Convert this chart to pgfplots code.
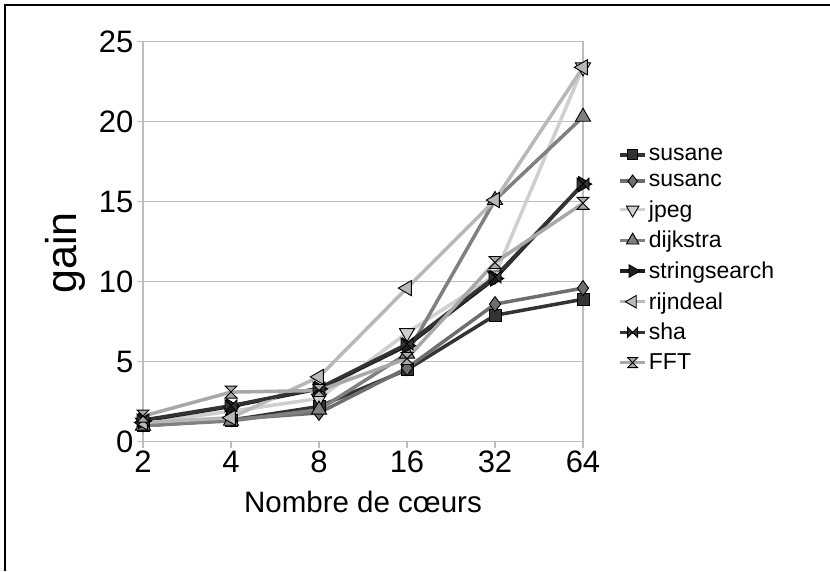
\documentclass[border=0pt]{standalone}
\usepackage{fontspec}
\setmainfont{Liberation Sans}
\usepackage{pgfplots}
\pgfplotsset{compat=1.18}

\definecolor{cSusane}{HTML}{333333}
\definecolor{cSusanc}{HTML}{6E6E6E}
\definecolor{cJpeg}{HTML}{CFCFCF}
\definecolor{cDijk}{HTML}{808080}
\definecolor{cString}{HTML}{1E1E1E}
\definecolor{cRijn}{HTML}{B8B8B8}
\definecolor{cSha}{HTML}{333333}
\definecolor{cFFT}{HTML}{A8A8A8}
\definecolor{gridgray}{HTML}{BEBEBE}

% bowtie (sha) and hourglass (FFT) marks
\pgfdeclareplotmark{bowtie}{%
  \pgfpathmoveto{\pgfqpoint{-\pgfplotmarksize}{\pgfplotmarksize}}%
  \pgfpathlineto{\pgfqpoint{\pgfplotmarksize}{-\pgfplotmarksize}}%
  \pgfpathlineto{\pgfqpoint{\pgfplotmarksize}{\pgfplotmarksize}}%
  \pgfpathlineto{\pgfqpoint{-\pgfplotmarksize}{-\pgfplotmarksize}}%
  \pgfpathclose\pgfusepathqfillstroke}
\pgfdeclareplotmark{hourglass}{%
  \pgfpathmoveto{\pgfqpoint{-\pgfplotmarksize}{\pgfplotmarksize}}%
  \pgfpathlineto{\pgfqpoint{\pgfplotmarksize}{\pgfplotmarksize}}%
  \pgfpathlineto{\pgfqpoint{-\pgfplotmarksize}{-\pgfplotmarksize}}%
  \pgfpathlineto{\pgfqpoint{\pgfplotmarksize}{-\pgfplotmarksize}}%
  \pgfpathclose\pgfusepathqfillstroke}

\tikzset{mk/.style={draw=black, fill=#1, line width=0.9pt, solid},
  tri/.style={mk=#1, scale=1.45}}

\begin{document}
\begin{tikzpicture}
\useasboundingbox (0pt,0pt) rectangle (830pt,571pt);
\draw[line width=2.5pt] (5pt,0pt) -- (5pt,566pt) -- (830pt,566pt);
\begin{axis}[
  at={(143pt,129.3pt)}, anchor=south west,
  scale only axis, width=440pt, height=400pt,
  xmin=0, xmax=5, ymin=0, ymax=25,
  xtick={0,...,5}, xticklabels={2,4,8,16,32,64},
  ytick={0,5,...,25},
  xtick pos=bottom, ytick pos=left,
  axis line style={gridgray, line width=1.2pt},
  ymajorgrids, grid style={gridgray, line width=1.2pt},
  tick style={gridgray, line width=1.2pt},
  tick align=outside, major tick length=6pt,
  tick label style={font=\fontsize{31}{33}\selectfont, text=black},
  /pgf/number format/assume math mode=true,
  ylabel={gain},
  ylabel style={font=\fontsize{43}{45}\selectfont, at={(axis description cs:-0.177,0.472)}, anchor=center},
  xlabel={Nombre de cœurs},
  xlabel style={font=\fontsize{29.5}{31}\selectfont, at={(axis description cs:0.5,-0.151)}, anchor=center},
  clip=false,
  every axis plot/.append style={line width=3.5pt, mark size=6pt},
  legend style={at={(axis description cs:1.08,0.74)}, anchor=north west, draw=none, fill=none,
    font=\fontsize{23}{24}\selectfont, row sep=8.5pt, inner sep=0pt},
  legend cell align=left,
  legend image code/.code={\draw[mark repeat=2,mark phase=2,#1,mark size=5pt] plot coordinates {(0pt,0pt) (12.5pt,0pt) (25pt,0pt)};},
]
\addplot[cSusane, mark=square*, mark options={mk=cSusane}] coordinates
  {(0,1.0) (1,1.35) (2,2.2) (3,4.5) (4,7.9) (5,8.9)};
\addplot[cSusanc, mark=diamond*, mark options={mk=cSusanc, scale=1.25}] coordinates
  {(0,1.1) (1,1.4) (2,1.8) (3,4.6) (4,8.6) (5,9.6)};
\addplot[cJpeg, mark=triangle*, mark options={tri=cJpeg, rotate=180}] coordinates
  {(0,1.2) (1,1.9) (2,2.7) (3,6.8) (4,10.4) (5,23.4)};
\addplot[cDijk, mark=triangle*, mark options={tri=cDijk}] coordinates
  {(0,1.0) (1,1.3) (2,2.0) (3,5.5) (4,15.1) (5,20.3)};
\addplot[cString, mark=triangle*, mark options={tri=cString, rotate=-90}] coordinates
  {(0,1.3) (1,2.2) (2,3.3) (3,6.0) (4,10.2) (5,16.1)};
\addplot[cRijn, mark=triangle*, mark options={tri=cRijn, rotate=90}] coordinates
  {(0,1.2) (1,1.5) (2,4.05) (3,9.6) (4,15.1) (5,23.4)};
\addplot[cSha, mark=bowtie, mark options={mk=cSha}] coordinates
  {(0,1.35) (1,2.25) (2,3.35) (3,6.1) (4,10.3) (5,16.1)};
\addplot[cFFT, mark=hourglass, mark options={mk=cFFT}] coordinates
  {(0,1.6) (1,3.1) (2,3.2) (3,5.2) (4,11.2) (5,14.9)};
\legend{susane,susanc,jpeg,dijkstra,stringsearch,rijndeal,sha,FFT}
\end{axis}
\end{tikzpicture}
\end{document}
